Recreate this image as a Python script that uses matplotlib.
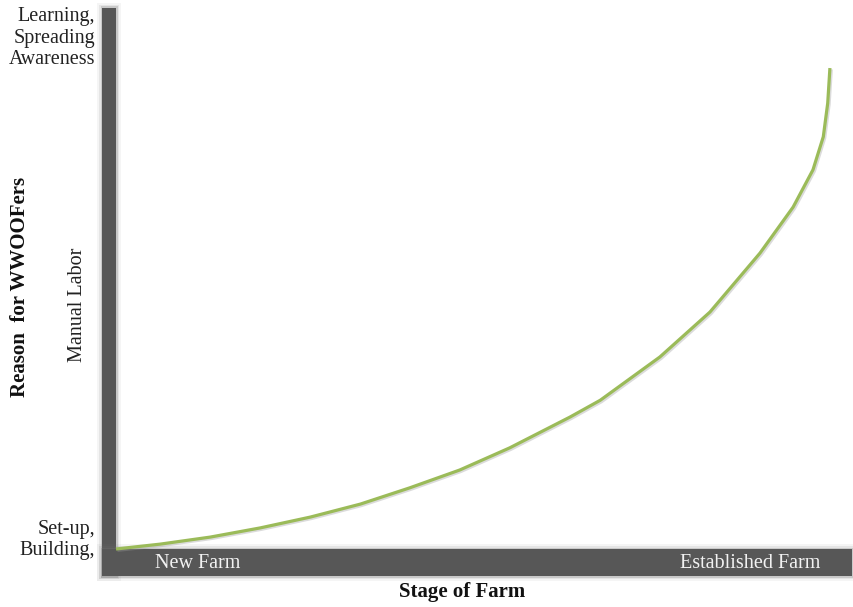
import matplotlib.pyplot as plt
import matplotlib.patheffects as pe
from matplotlib.patches import Rectangle

# ----------------------------------------------------------------------
# DATA (0-10 scale on both axes)
# ----------------------------------------------------------------------
stage = [0.0, 0.60, 1.28, 1.96, 2.64, 3.32, 3.99, 4.67, 5.35, 6.17,
         6.58, 7.39, 8.07, 8.75, 9.20, 9.47, 9.61, 9.67, 9.70]
reason = [0.0, 0.09, 0.22, 0.39, 0.59, 0.83, 1.13, 1.46, 1.87, 2.44,
          2.75, 3.55, 4.38, 5.47, 6.32, 7.01, 7.62, 8.24, 8.89]

y_labels = ["Set-up,\nBuilding,", "Manual Labor", "Learning,\nSpreading\nAwareness"]
x_labels = ["New Farm", "Established Farm"]

BAR_COLOR = "#575757"
CURVE_COLOR = "#9bbb59"
W, H = 854, 607

plt.rcParams["font.family"] = ["Liberation Serif", "DejaVu Serif"]

fig = plt.figure(figsize=(W / 100, H / 100), dpi=100)
# plot area: inner corner of the axis bars at (116, 549) px
ax = fig.add_axes([116 / W, (H - 549) / H, 736 / W, 541 / H])
ax.set_xlim(0, 10)
ax.set_ylim(0, 10)
ax.axis("off")


def bar(x0, y0, w, h):
    # soft blurred edge, then the solid bar
    for grow, alpha in [(5, 0.07), (3, 0.12), (1.5, 0.25)]:
        gx, gy = grow / 736, grow / 541
        ax.add_patch(Rectangle((x0 - gx, y0 - gy), w + 2 * gx, h + 2 * gy,
                               transform=ax.transAxes, color="#777777",
                               alpha=alpha, lw=0, clip_on=False))
    ax.add_patch(Rectangle((x0, y0), w, h, transform=ax.transAxes,
                           color=BAR_COLOR, lw=0, clip_on=False))


# vertical axis bar (x 102-116 px, y 8-576 px)
bar(-14 / 736, -27 / 541, 14 / 736, 568 / 541)
# horizontal axis bar (x 102-852 px, y 549-576 px)
bar(-14 / 736, -27 / 541, 750 / 736, 27 / 541)

ax.plot(stage, reason, color=CURVE_COLOR, lw=2.3, solid_joinstyle="round",
        solid_capstyle="butt", clip_on=False,
        path_effects=[pe.SimpleLineShadow(offset=(1, -1), shadow_color="#999999",
                                          alpha=0.35),
                      pe.Normal()])


def px(x, y):
    return x / W, 1 - y / H


txt = dict(fontsize=14.5, color="#222222")
fig.text(*px(95, 540), y_labels[0], ha="right", va="center",
         linespacing=1.15, **txt)
fig.text(*px(78, 305), y_labels[1], ha="center", va="center",
         rotation=90, **txt)
fig.text(*px(95, 38), y_labels[2], ha="right", va="center",
         linespacing=1.15, **txt)

fig.text(*px(155, 564), x_labels[0], ha="left", va="center",
         fontsize=14.5, color="#f2f2f2")
fig.text(*px(820, 564), x_labels[1], ha="right", va="center",
         fontsize=14.5, color="#f2f2f2")

fig.text(*px(462, 592), "Stage of Farm", ha="center", va="center",
         fontsize=15, fontweight="bold", color="#111111")
fig.text(*px(20, 287), "Reason  for WWOOFers", ha="center", va="center",
         rotation=90, fontsize=15, fontweight="bold", color="#111111")

fig.savefig("out.png", dpi=100)
